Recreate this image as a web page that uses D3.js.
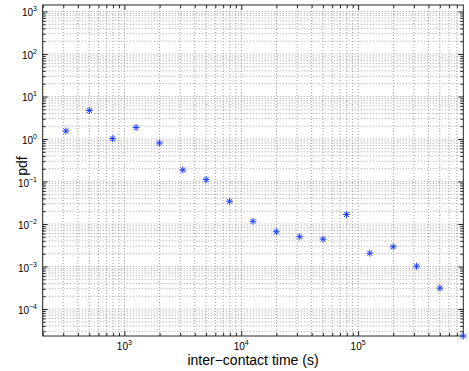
<!DOCTYPE html>
<html>
<head>
<meta charset="utf-8">
<script src="https://cdn.jsdelivr.net/npm/d3@7"></script>
<style>
  html, body { margin: 0; padding: 0; background: #fff; }
  svg { display: block; }
  text { font-family: "Liberation Sans", Arial, Helvetica, sans-serif; fill: #000; }
</style>
</head>
<body>
<svg id="chart" width="469" height="371"></svg>
<script>
// ---- data ----
const interContactTime = [316, 501, 794, 1259, 1995, 3162, 5012, 7943, 12589, 19953,
  31623, 50119, 79433, 125893, 199526, 316228, 501187, 794328];
const pdfValues = [1.54, 4.69, 1.02, 1.87, 0.805, 0.187, 0.111, 0.0343, 0.0116, 0.00656,
  0.00501, 0.0044, 0.0167, 0.00206, 0.00292, 0.00102, 0.000311, 0.0000232];
const xTickExponents = [3, 4, 5];
const yTickExponents = [-4, -3, -2, -1, 0, 1, 2, 3];
const xLimits = [200, 794328];
const yLimits = [0.0000232, 1420];

// ---- layout ----
const L = 42.7, R = 463.3, T = 5, B = 336;
const svg = d3.select("#chart");
const x = d3.scaleLog().domain(xLimits).range([L, R]);
const y = d3.scaleLog().domain(yLimits).range([B, T]);

function logTicks(domain) {
  const lo = Math.floor(Math.log10(domain[0])), hi = Math.ceil(Math.log10(domain[1]));
  const major = [], minor = [];
  for (let k = lo; k <= hi; k++) {
    for (let m = 1; m <= 9; m++) {
      const v = m * Math.pow(10, k);
      if (v >= domain[0] * 0.9999 && v <= domain[1] * 1.0001) (m === 1 ? major : minor).push(v);
    }
  }
  return { major, minor };
}
const xt = logTicks(xLimits), yt = logTicks(yLimits);

// ---- grid ----
const grid = svg.append("g").attr("stroke", "#a0a0a0").attr("stroke-width", 1)
  .attr("stroke-dasharray", "1,2").attr("fill", "none");
grid.selectAll("line.gx").data(xt.major.concat(xt.minor)).join("line")
  .attr("class", "gx")
  .attr("x1", d => x(d)).attr("x2", d => x(d)).attr("y1", T).attr("y2", B);
grid.selectAll("line.gy").data(yt.major.concat(yt.minor)).join("line")
  .attr("class", "gy")
  .attr("y1", d => y(d)).attr("y2", d => y(d)).attr("x1", L).attr("x2", R);

// ---- ticks via d3 axes (inward, on all four sides) ----
function addAxis(axisFn, scale, vals, size, transform) {
  const g = svg.append("g").attr("transform", transform)
    .call(axisFn(scale).tickValues(vals).tickSize(size).tickFormat(""));
  g.select(".domain").remove();
  g.selectAll(".tick line").attr("stroke", "#262626");
  return g;
}
addAxis(d3.axisBottom, x, xt.major, -5, `translate(0,${B})`);
addAxis(d3.axisBottom, x, xt.minor, -3, `translate(0,${B})`);
addAxis(d3.axisTop, x, xt.major, -5, `translate(0,${T})`);
addAxis(d3.axisTop, x, xt.minor, -3, `translate(0,${T})`);
addAxis(d3.axisLeft, y, yt.major, -5, `translate(${L},0)`);
addAxis(d3.axisLeft, y, yt.minor, -3, `translate(${L},0)`);
addAxis(d3.axisRight, y, yt.major, -5, `translate(${R},0)`);
addAxis(d3.axisRight, y, yt.minor, -3, `translate(${R},0)`);

// ---- frame ----
svg.append("rect").attr("x", L).attr("y", T).attr("width", R - L).attr("height", B - T)
  .attr("fill", "none").attr("stroke", "#262626").attr("stroke-width", 1);

// ---- tick labels ----
const xl = svg.append("g");
xTickExponents.forEach(e => {
  const t = xl.append("text").attr("x", x(Math.pow(10, e))).attr("y", 349.5)
    .attr("text-anchor", "middle").attr("font-size", 10);
  t.append("tspan").text("10");
  t.append("tspan").attr("font-size", 7).attr("dy", -5).text(String(e));
});
const yl = svg.append("g");
yTickExponents.forEach(e => {
  const t = yl.append("text").attr("x", 37).attr("y", y(Math.pow(10, e)) + 5)
    .attr("text-anchor", "end").attr("font-size", 10);
  t.append("tspan").text("10");
  t.append("tspan").attr("font-size", 7).attr("dy", -5).text(String(e).replace("-", "\u2212"));
});

// ---- axis titles ----
svg.append("text").attr("x", (L + R) / 2).attr("y", 364.5).attr("text-anchor", "middle")
  .attr("font-size", 14).text("inter\u2212contact time (s)");
svg.append("text").attr("transform", `translate(27,166) rotate(-90)`)
  .attr("text-anchor", "middle").attr("font-size", 14).text("pdf");

// ---- markers (asterisks) ----
const star = "M-3.5,0H3.5M0,-3.5V3.5M-2.5,-2.5L2.5,2.5M-2.5,2.5L2.5,-2.5";
svg.append("g").selectAll("path").data(interContactTime.map((t, i) => [t, pdfValues[i]]))
  .join("path")
  .attr("transform", d => `translate(${x(d[0])},${y(d[1])})`)
  .attr("d", star).attr("fill", "none").attr("stroke", "#1f3dff").attr("stroke-width", 1);
</script>
</body>
</html>
